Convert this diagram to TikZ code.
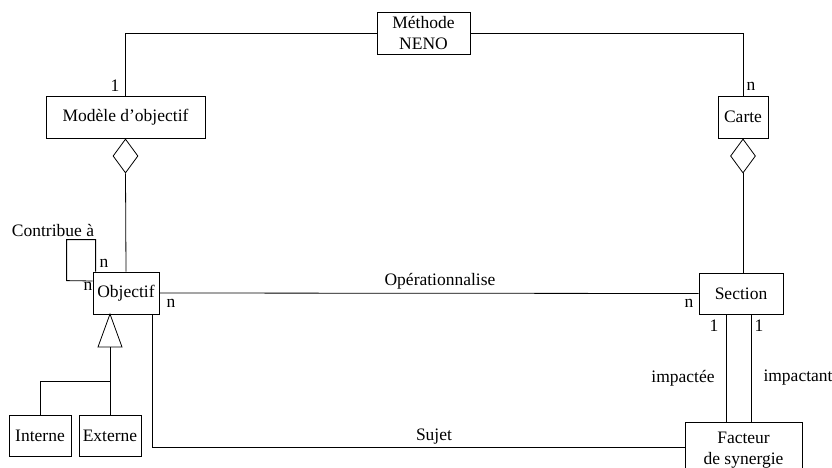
\documentclass[tikz,border=0pt]{standalone}
\usepackage{fontspec}
\setmainfont{Liberation Serif}
\newfontfamily\diafont{Liberation Serif}
\usetikzlibrary{shapes.geometric}
\begin{document}
\begin{tikzpicture}[x=1pt,y=-1pt,line width=0.8pt,
  font=\diafont\fontsize{17.5}{21}\selectfont,
  box/.style={draw,inner sep=0pt,align=center},
  dia/.style={draw,diamond,inner sep=0pt,minimum width=25pt,minimum height=34pt},
  lbl/.style={inner sep=0pt}]
\useasboundingbox (0,0) rectangle (832,468);
\clip (0,0) rectangle (832,468);
\node[box,minimum width=93pt,minimum height=42pt] (meth) at (423.5,33) {Méthode\\NENO};
\node[box,minimum width=159pt,minimum height=42pt] (mod) at (125.5,117) {Modèle d’objectif};
\node[box,minimum width=50pt,minimum height=42pt] (carte) at (743,117) {Carte};
\node[box,minimum width=66pt,minimum height=42pt] (obj) at (126,293) {Objectif};
\node[box,minimum width=84pt,minimum height=41pt] (sec) at (741,293.5) {Section};
\node[box,minimum width=62pt,minimum height=41pt] (int) at (40,435.5) {Interne};
\node[box,minimum width=62pt,minimum height=41pt] (ext) at (110,435.5) {Externe};
\node[box,minimum width=117pt,minimum height=56pt] (fac) at (743.5,450) {Facteur\\de synergie};
\node[dia] (d1) at (125.5,156) {};
\node[dia] (d2) at (743,156) {};
% connectors
\draw (meth.west) -| (mod.north);
\draw (meth.east) -| (carte.north);
\draw (mod.south) -- (d1.north);
\draw (d1.south) -- (obj.north);
\draw (carte.south) -- (d2.north);
\draw (d2.south) -- (d2.south |- sec.north);
\draw ([xshift=3pt]obj.north west) -- ++(0,-32) -- ++(-29,0) -- ++(0,41) -- (obj.west |- 0,281);
\draw (obj.east) -- (sec.west);
\draw ([xshift=-7pt]obj.south east) |- ([yshift=3pt]fac.west);
\draw ([xshift=-15pt]sec.south) -- ([xshift=-15pt]sec.south |- fac.north);
\draw ([xshift=10pt]sec.south) -- ([xshift=10pt]sec.south |- fac.north);
% generalization
\coordinate (apex) at (110,314);
\draw (apex) -- (122,347) -- (98,347) -- cycle;
\coordinate (gb) at (110,347);
\coordinate (gj) at (110,381);
\draw (gb) -- (gj) -| (int.north);
\draw (gj) -- (ext.north);
% labels
\node[lbl] at (115,86) {1};
\node[lbl] at (751,86) {n};
\node[lbl] at (53,231) {Contribue à};
\node[lbl] at (104,263) {n};
\node[lbl] at (88,286) {n};
\node[lbl] at (171,303) {n};
\node[lbl] at (440,281) {Opérationnalise};
\node[lbl] at (689,303) {n};
\node[lbl] at (714,326) {1};
\node[lbl] at (759,326) {1};
\node[lbl] at (683,378) {impactée};
\node[lbl] at (798,378) {impactant};
\node[lbl] at (434,437) {Sujet};
\end{tikzpicture}
\end{document}
